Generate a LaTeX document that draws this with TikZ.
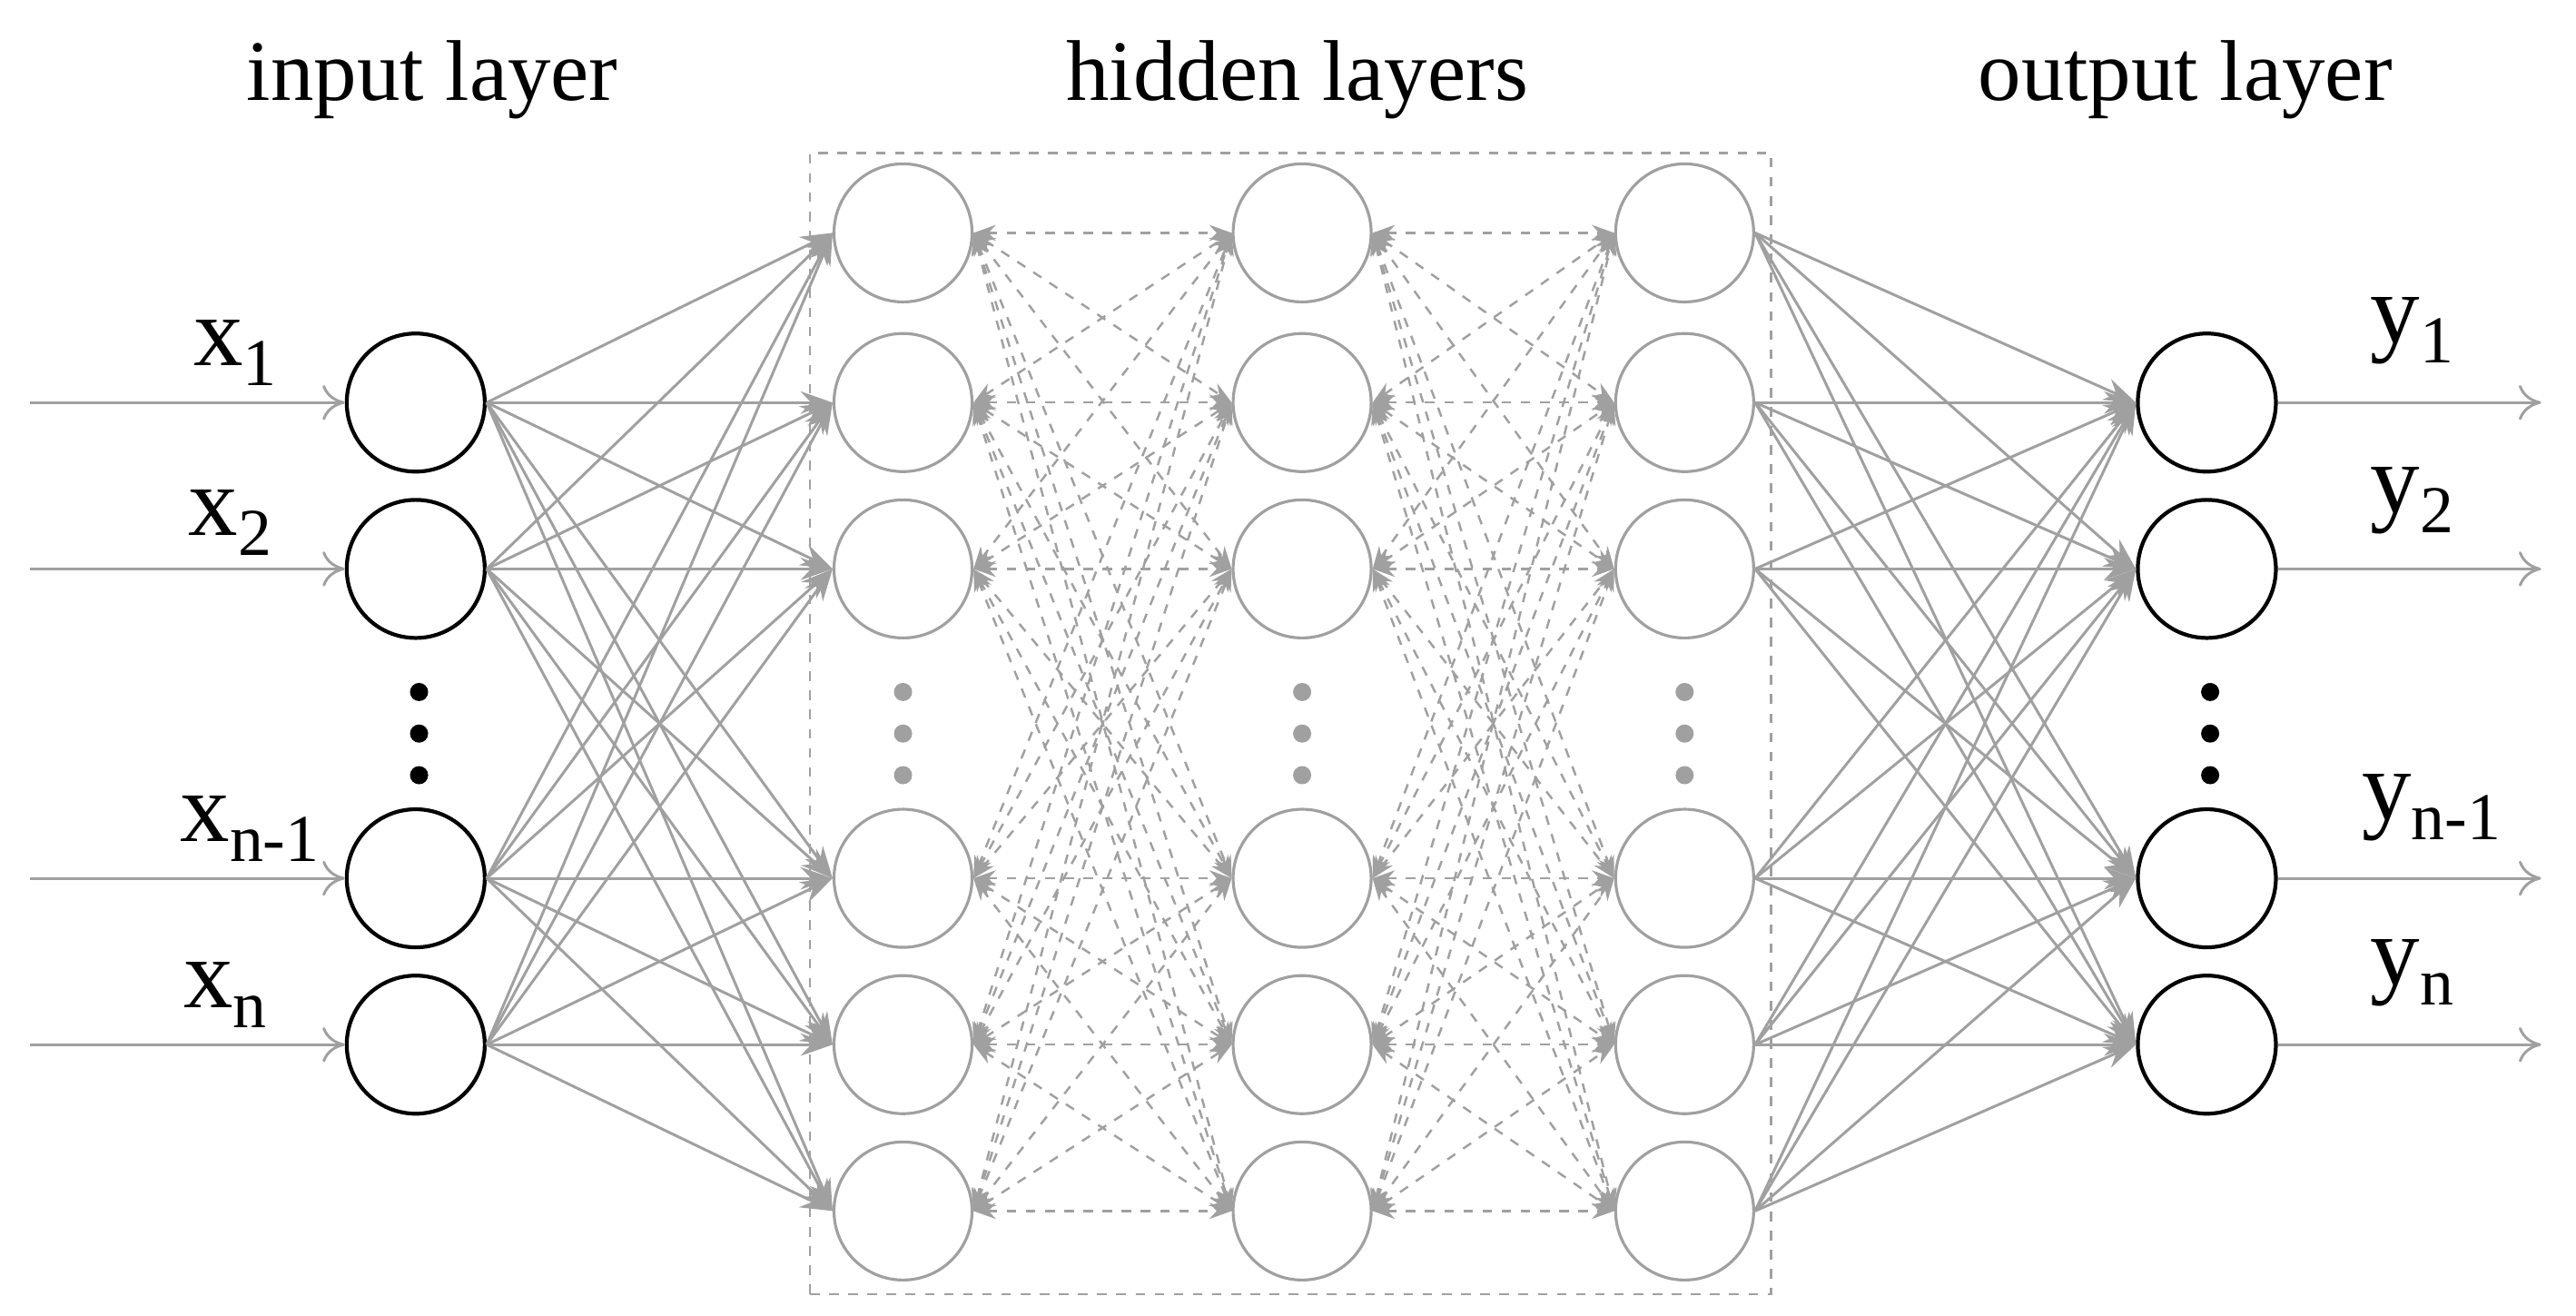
\documentclass[tikz,border=0pt]{standalone}
\usepackage{fontspec}
\setmainfont{Liberation Serif}
\usetikzlibrary{arrows.meta}
\definecolor{lg}{HTML}{A0A0A0}
\begin{document}
\begin{tikzpicture}[x=0.018315cm,y=-0.018315cm,
  inode/.style={circle,draw=black,line width=1.2pt,minimum size=1.52cm,inner sep=0pt},
  hnode/.style={circle,draw=lg,line width=0.9pt,minimum size=1.52cm,inner sep=0pt},
  solidc/.style={draw=lg,line width=0.85pt,-{Stealth[length=10pt,width=7pt]}},
  dashc/.style={draw=lg,line width=0.7pt,dashed,{Stealth[length=7pt,width=5pt]}-{Stealth[length=7pt,width=5pt]}},
  ext/.style={draw=lg,line width=0.85pt,-{To[length=7pt,width=11pt]}},
  title/.style={font=\fontsize{27}{27}\selectfont},
  lab/.style={anchor=base west,inner sep=0pt,font=\fontsize{31}{31}\selectfont},
  dotb/.style={circle,fill=black,inner sep=0pt,minimum size=0.2cm},
  dotg/.style={circle,fill=lg,inner sep=0pt,minimum size=0.2cm}]
\useasboundingbox (0,0) rectangle (1549,791);
\newcommand{\sub}[1]{\raisebox{-0.22cm}{\fontsize{21}{21}\selectfont #1}}
\node[title] (t1) at (260,48) {input layer};
\node[title] (t2) at (780,48) {hidden layers};
\node[title] (t3) at (1314,48) {output layer};
\node[draw=lg,dashed,line width=0.7pt,minimum width=578*0.018315cm,minimum height=686*0.018315cm,inner sep=0pt] (box) at (776,435) {};
\foreach \i/\y in {1/242,2/342,3/528,4/628}{
  \node[inode] (i\i) at (250,\y) {};
  \node[inode] (o\i) at (1327,\y) {};
  \coordinate (ia\i) at (18,\y);
  \coordinate (oa\i) at (1528,\y);
  \draw[ext] (ia\i) -- (i\i.west);
  \draw[ext] (o\i.east) -- (oa\i);
}
\foreach \i/\y in {1/140,2/242,3/342,4/528,5/628,6/728}{
  \node[hnode] (a\i) at (543,\y) {};
  \node[hnode] (b\i) at (783,\y) {};
  \node[hnode] (c\i) at (1013,\y) {};
}
\foreach \y in {416,441,466}{
  \node[dotb] at (252,\y) {};
  \node[dotb] at (1329,\y) {};
  \node[dotg] at (543,\y) {};
  \node[dotg] at (783,\y) {};
  \node[dotg] at (1013,\y) {};
}
\foreach \i in {1,...,4}{\foreach \j in {1,...,6}{
  \draw[solidc] (i\i.east) -- (a\j.west);
  \draw[solidc] (c\j.east) -- (o\i.west);
}}
\foreach \i in {1,...,6}{\foreach \j in {1,...,6}{
  \draw[dashc] (a\i.east) -- (b\j.west);
  \draw[dashc] (b\i.east) -- (c\j.west);
}}
\node[lab] (lx1) at (116,220) {x\sub{1}};
\node[lab] (lx2) at (113,322) {x\sub{2}};
\node[lab] (lx3) at (108,506) {x\sub{n-1}};
\node[lab] (lx4) at (110,606) {x\sub{n}};
\node[lab] (ly1) at (1425,206) {y\sub{1}};
\node[lab] (ly2) at (1425,308) {y\sub{2}};
\node[lab] (ly3) at (1420,493) {y\sub{n-1}};
\node[lab] (ly4) at (1425,592) {y\sub{n}};
\end{tikzpicture}
\end{document}
